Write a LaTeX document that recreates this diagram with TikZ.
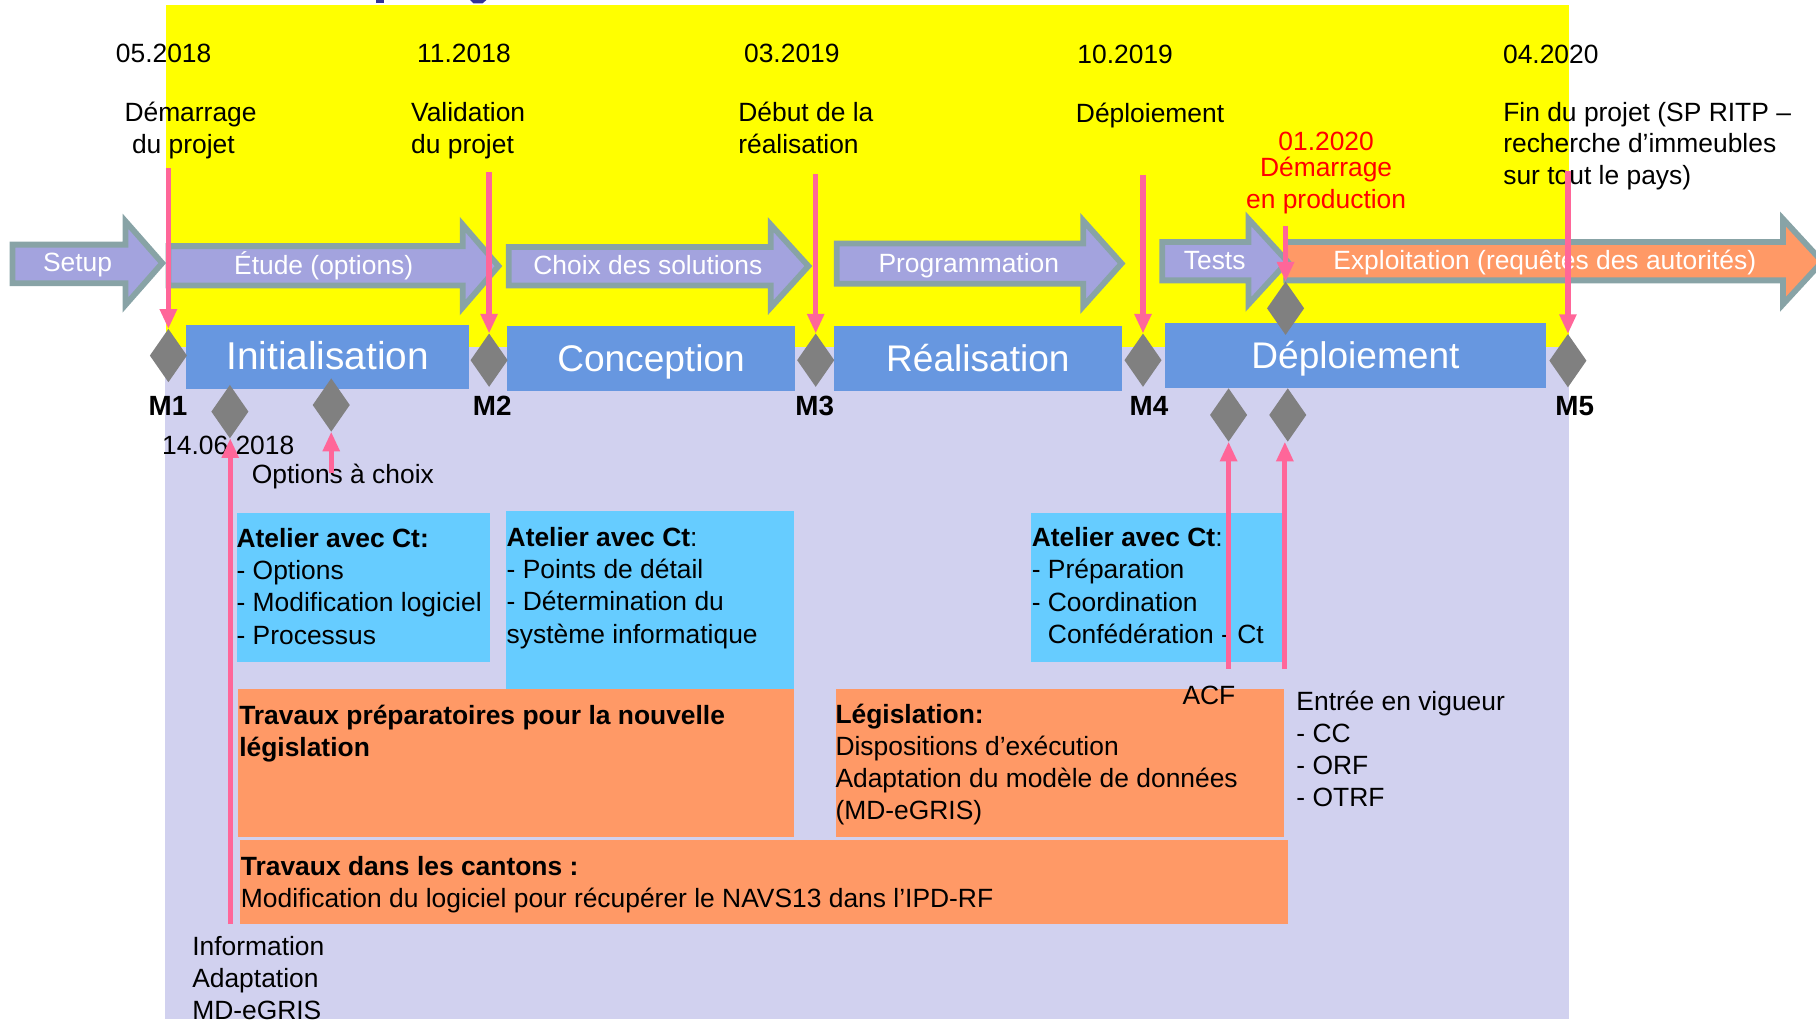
\documentclass[tikz,border=0pt]{standalone}
\usepackage{fontspec}
\setmainfont{Liberation Sans}
\usetikzlibrary{arrows.meta,shapes.geometric}
\definecolor{ylw}{HTML}{FFFF00}
\definecolor{lav}{HTML}{D1D1EF}
\definecolor{phaseblue}{HTML}{6797E0}
\definecolor{cyanbox}{HTML}{66CCFF}
\definecolor{orangebox}{HTML}{FF9966}
\definecolor{chevfill}{HTML}{A3A3DE}
\definecolor{chevline}{HTML}{88A3A6}
\definecolor{grdiam}{HTML}{808080}
\definecolor{pinkln}{HTML}{FF6699}
\definecolor{titleblue}{HTML}{333399}
\newcommand\txtfont{\fontsize{22.8}{27.6}\selectfont}
% #1 fill, #2 x0, #3 xh, #4 tip, #5 yt, #6 yb, #7 ht, #8 hb (outer measures)
\newcommand\chevron[8]{%
  \filldraw[fill=#1, draw=chevline, line width=5pt, line join=miter]
  ({#2+2.5},{#5+2.5}) -- ({#3+2.5},{#5+2.5}) -- ({#3+2.5},{#7+3.5}) --
  ({#4-3.6},{(#7+#8)/2}) -- ({#3+2.5},{#8-3.5}) -- ({#3+2.5},{#6-2.5}) --
  ({#2+2.5},{#6-2.5}) -- cycle;}
\begin{document}
\begin{tikzpicture}[x=1pt,y=-1pt,
  every node/.style={inner sep=0pt,outer sep=0pt},
  lbl/.style={font=\txtfont,align=left,anchor=base west},
  boxlbl/.style={font=\fontsize{22.8}{28}\selectfont,align=left,anchor=base west},
  chevlbl/.style={font=\txtfont,text=white,anchor=base},
  phase/.style={fill=phaseblue,text=white,font=\fontsize{32}{38}\selectfont,text height=23pt,text depth=1pt},
  mstone/.style={diamond,fill=grdiam,minimum width=32pt,minimum height=46pt},
  mlbl/.style={font=\fontsize{24}{28}\selectfont\bfseries,anchor=base},
  cybox/.style={fill=cyanbox,anchor=north west},
  orbox/.style={fill=orangebox,anchor=north west},
  pinkarr/.style={draw=pinkln,line width=4.5pt,-{Triangle[width=14pt,length=17pt]}}
]
\useasboundingbox (0,0) rectangle (1568,880);
% backgrounds
\fill[ylw] (143.3,4.3) rectangle (1354.7,299.5);
\fill[lav] (142.7,299.5) rectangle (1354.7,880);
% clipped title fragments
\fill[titleblue] (324.8,0) rectangle (331.8,2.4);
\fill[titleblue] (406,0) -- (420,0) -- (416.5,3) -- (409,3) -- cycle;

% process arrows
\fill[orangebox] (1108,208.9) -- (1539.5,208.9) -- (1539.5,189.1) -- (1573.4,225.9)
  -- (1539.5,262.7) -- (1539.5,242.1) -- (1108,242.1) -- cycle;
\draw[chevline,line width=5pt,line join=miter] (1108,208.9) -- (1539.5,208.9) -- (1539.5,189.1)
  -- (1573.4,225.9) -- (1539.5,262.7) -- (1539.5,242.1) -- (1108,242.1);
\chevron{chevfill}{8.3}{105.8}{143.7}{208.7}{247}{187.5}{266.8}
\chevron{chevfill}{143}{397}{434}{210}{249}{190.5}{269}
\chevron{chevfill}{436.8}{663}{701.6}{210.7}{249}{190.5}{269}
\chevron{chevfill}{720}{932.8}{972}{207.8}{247.5}{187}{268}
\chevron{chevfill}{1001}{1075.5}{1115.3}{206.4}{244.6}{185.6}{266.2}
\node[chevlbl] (lsetup) at (67,234.6) {Setup};
\node[chevlbl] (letude) at (279.5,237) {Étude (options)};
\node[chevlbl] (lchoix) at (559.4,236.6) {Choix des solutions};
\node[chevlbl] (lprog) at (836.5,235.4) {Programmation};
\node[chevlbl] (ltests) at (1048.8,233.1) {Tests};
\node[chevlbl] (lexpl) at (1333.8,233.1) {Exploitation (requêtes des autorités)};

% phase boxes
\node[phase,minimum width=244pt,minimum height=55.4pt,font=\fontsize{33.5}{40}\selectfont] (init) at (283,308.3) {Initialisation};
\node[phase,minimum width=249pt,minimum height=55.8pt] (conc) at (562.1,309.4) {Conception};
\node[phase,minimum width=248.7pt,minimum height=55.8pt] (real) at (844.35,309.4) {Réalisation};
\node[phase,minimum width=328.9pt,minimum height=55.5pt] (depl) at (1170.35,306.95) {Déploiement};

% content boxes
\node[cybox,minimum width=218.7pt,minimum height=128.4pt] (c1) at (204.3,443) {};
\node[cybox,minimum width=248.7pt,minimum height=153.6pt] (c2) at (436.7,441) {};
\node[cybox,minimum width=216.5pt,minimum height=128.8pt] (c3) at (890,442.8) {};
\node[orbox,minimum width=479.9pt,minimum height=128.4pt] (o1) at (205.5,594.6) {};
\node[orbox,minimum width=387.6pt,minimum height=127.7pt] (o2) at (721.4,595) {};
\node[orbox,minimum width=905pt,minimum height=72.1pt] (o3) at (207,725.3) {};

% texts in boxes (anchor = baseline of the last line)
\node[boxlbl] (t1) at (204.3,556.3) {\textbf{Atelier avec Ct:}\\- Options\\- Modification logiciel\\- Processus};
\node[boxlbl] (t2) at (437.5,555.5) {\textbf{Atelier avec Ct}:\\- Points de détail\\- Détermination du\\système informatique};
\node[boxlbl] (t3) at (890.9,555.7) {\textbf{Atelier avec Ct}:\\- Préparation\\- Coordination\\\phantom{- }Confédération - Ct};
\node[lbl] (t4) at (206.6,653.4) {\textbf{Travaux préparatoires pour la nouvelle}\\\textbf{législation}};
\node[lbl] (t5) at (721.4,707.4) {\textbf{Législation:}\\Dispositions d’exécution\\Adaptation du modèle de données\\(MD-eGRIS)};
\node[lbl] (t6) at (208,783.4) {\textbf{Travaux dans les cantons :}\\Modification du logiciel pour récupérer le NAVS13 dans l’IPD-RF};

% top texts
\node[lbl,anchor=base] (d1) at (141.3,54) {05.2018};
\node[lbl,anchor=base] (d2) at (400.6,54) {11.2018};
\node[lbl,anchor=base] (d3) at (683.7,54) {03.2019};
\node[lbl,anchor=base] (d4) at (971.5,54.5) {10.2019};
\node[lbl,anchor=base] (d5) at (1339,54.5) {04.2020};
\node[lbl] (e1) at (107.5,132.4) {Démarrage\\\hspace*{6.5pt}du projet};
\node[lbl] (e2) at (355,132.4) {Validation\\du projet};
\node[lbl] (e3) at (637.5,132.4) {Début de la\\réalisation};
\node[lbl] (e4) at (929,106) {Déploiement};
\node[lbl] (e5) at (1298,159.7) {Fin du projet (SP RITP –\\recherche d’immeubles\\sur tout le pays)};
\node[lbl,align=center,anchor=base,text=red] (e6) at (1145,179.9) {01.2020\\[-5pt]Démarrage\\en production};

% other labels
\node[lbl] (f1) at (140,392.8) {14.06.2018};
\node[lbl] (f2) at (217.5,417.3) {Options à choix};
\node[lbl] (f3) at (1021,608.7) {ACF};
\node[lbl] (f4) at (1119.4,696) {Entrée en vigueur\\- CC\\- ORF\\- OTRF};
\node[lbl] (f5) at (166,880.6) {Information\\Adaptation\\MD-eGRIS};

% milestones
\node[mstone] (m1) at (145.4,307) {};
\node[mstone] (m2) at (422.3,311) {};
\node[mstone] (m3) at (704.3,311) {};
\node[mstone] (m4) at (986.9,311) {};
\node[mstone] (m5) at (1353.8,311.4) {};
\node[mstone] (da) at (198.5,355.4) {};
\node[mstone] (db) at (286,349.7) {};
\node[mstone] (dc) at (1060.8,358.3) {};
\node[mstone] (dd) at (1111.9,358.3) {};
\node[mstone] (de) at (1110,266.2) {};
\node[mlbl] (ml1) at (145,358.5) {M1};
\node[mlbl] (ml2) at (425,358.5) {M2};
\node[mlbl] (ml3) at (703.5,358.5) {M3};
\node[mlbl] (ml4) at (992,358.5) {M4};
\node[mlbl] (ml5) at (1359.7,358.5) {M5};

% pink arrows
\coordinate (p1) at (145.4,145.3);
\coordinate (p2) at (422.3,148.8);
\coordinate (p3) at (704.3,150.5);
\coordinate (p4) at (986.9,151);
\coordinate (p5) at (1353.8,148);
\coordinate (p6) at (1110,195);
\coordinate (q1) at (198.8,798);
\coordinate (q2) at (286,408.7);
\coordinate (q3) at (1060.8,577.6);
\coordinate (q4) at (1109.4,577.6);
\draw[pinkarr] (p1) -- (m1.north);
\draw[pinkarr] (p2) -- (m2.north);
\draw[pinkarr] (p3) -- (m3.north);
\draw[pinkarr] (p4) -- (m4.north);
\draw[pinkarr] (p5) -- (m5.north);
\draw[pinkarr] (p6) -- (de.north);
\draw[pinkarr] (q1) -- (q1 |- da.south);
\draw[pinkarr] (q2) -- (db.south);
\draw[pinkarr] (q3) -- (dc.south);
\draw[pinkarr] (q4) -- (q4 |- dd.south);
\end{tikzpicture}
\end{document}
